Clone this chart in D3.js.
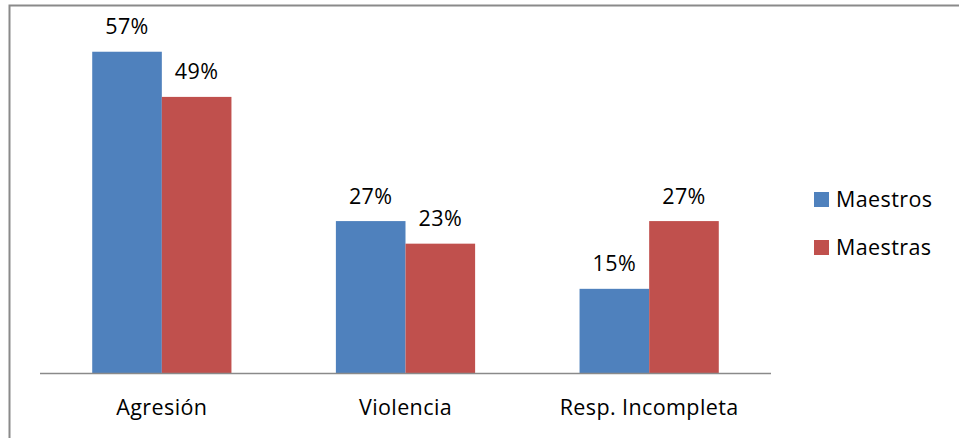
<!DOCTYPE html>
<html><head><meta charset="utf-8">
<script src="https://cdn.jsdelivr.net/npm/d3@7"></script>
<style>body{margin:0;background:#fff}svg{display:block}text{font-family:"Open Sans","Noto Sans",sans-serif;fill:#000;letter-spacing:0.4px}</style>
</head><body><svg id="c" width="959" height="438"></svg>
<script>
const categories = ["Agresión", "Violencia", "Resp. Incompleta"];
const seriesNames = ["Maestros", "Maestras"];
const maestros = [0.57, 0.27, 0.15];
const maestras = [0.49, 0.23, 0.27];
const colors = ["#4F81BD", "#C0504D"];

const svg = d3.select("#c");
const W = 959, H = 438;
svg.append("rect").attr("x", 9.5).attr("y", 5.5).attr("width", W + 10).attr("height", H + 10)
  .attr("fill", "#fff").attr("stroke", "#8a8a8a").attr("stroke-width", 2);

const x0 = d3.scaleBand().domain(categories).range([40, 771]).paddingInner(0.4286).paddingOuter(0.2143);
const x1 = d3.scaleBand().domain(seriesNames).range([0, x0.bandwidth()]);
const y = d3.scaleLinear().domain([0, 0.6]).range([373.5, 373.5 - 0.6 * 564.5]);

const FS = 21.5;
const data = categories.map((c, i) => ({cat: c, vals: [maestros[i], maestras[i]]}));
const g = svg.selectAll("g.grp").data(data).join("g").attr("class", "grp")
  .attr("transform", d => `translate(${x0(d.cat)},0)`);
g.selectAll("rect").data(d => d.vals.map((v, j) => ({v, s: seriesNames[j], j})))
  .join("rect")
  .attr("x", d => x1(d.s)).attr("width", x1.bandwidth())
  .attr("y", d => y(d.v)).attr("height", d => y(0) - y(d.v))
  .attr("fill", d => colors[d.j]);
g.selectAll("text.lbl").data(d => d.vals.map((v, j) => ({v, s: seriesNames[j], j})))
  .join("text").attr("class", "lbl")
  .attr("x", d => x1(d.s) + x1.bandwidth() / 2).attr("y", d => y(d.v) - 17.5)
  .attr("text-anchor", "middle").attr("font-size", FS)
  .text(d => d3.format(".0%")(d.v));

svg.append("line").attr("x1", 40).attr("x2", 771).attr("y1", 373.5).attr("y2", 373.5)
  .attr("stroke", "#8a8a8a").attr("stroke-width", 1.5);

svg.selectAll("text.cat").data(categories).join("text").attr("class", "cat")
  .attr("x", d => x0(d) + x0.bandwidth() / 2).attr("y", 415)
  .attr("text-anchor", "middle").attr("font-size", FS).text(d => d);

const leg = svg.selectAll("g.leg").data(seriesNames).join("g").attr("class", "leg")
  .attr("transform", (d, i) => `translate(814,${192 + i * 48})`);
leg.append("rect").attr("width", 15).attr("height", 15).attr("fill", (d, i) => colors[i]);
leg.append("text").attr("x", 22).attr("y", 15).attr("font-size", FS).text(d => d);
</script></body></html>
